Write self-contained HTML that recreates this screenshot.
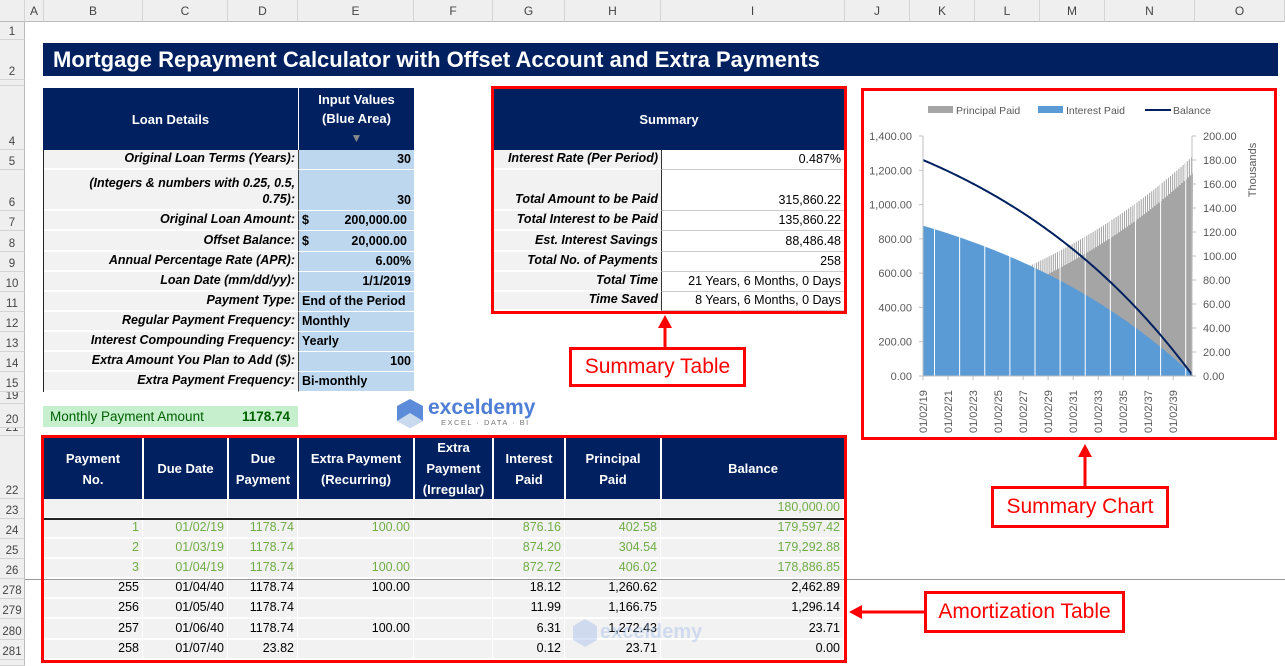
<!DOCTYPE html>
<html><head><meta charset="utf-8"><style>
*{box-sizing:border-box;margin:0;padding:0}
body{width:1285px;height:666px;overflow:hidden;background:#fff;font-family:"Liberation Sans",sans-serif;position:relative;font-size:12.5px;color:#000}
.a{position:absolute;white-space:nowrap;overflow:hidden}
.ch{background:#efefef;color:#444;text-align:center;font-size:12px;line-height:22px;top:0;height:22px;border-right:1px solid #d4d4d4;border-bottom:1px solid #bbb}
.rh{background:#efefef;color:#444;left:0;width:25px;text-align:center;font-size:11.5px;border-bottom:1px solid #d4d4d4;border-right:1px solid #bbb;display:flex;align-items:flex-end;justify-content:center;padding-bottom:1px}
.nv{background:#002060;color:#fff;font-weight:bold;display:flex;align-items:center;justify-content:center;text-align:center;line-height:21px;font-size:13px}
.c{display:flex;align-items:flex-end;padding:0 3px 2px 3px;font-size:12.5px;line-height:16px}
.r{justify-content:flex-end}
.lb{background:#f2f2f2;font-weight:bold;font-style:italic;justify-content:flex-end;border-bottom:2px solid #fff}
.iv{background:#bdd7ee;border-bottom:1px solid #fff;border-left:1px solid #444}
.sv{background:#fff;border-bottom:1px solid #ccc;border-left:1px solid #333}
.g{background:#f2f2f2;border-bottom:2px solid #fff;border-right:1px solid #fff}
.red{border:3px solid #f00}
.call{border:3px solid #f00;background:#fff;color:#f00;font-size:21px;display:flex;align-items:center;justify-content:center}
</style></head><body>
<div id="root"></div>
<svg class="a" style="left:0;top:0" width="1285" height="666" id="sv"></svg>
<script>
const R=document.getElementById('root');
function d(cls,x,y,w,h,t,st){const e=document.createElement('div');e.className='a '+cls;e.style.cssText=`left:${x}px;top:${y}px;width:${w}px;height:${h}px;`+(st||'');e.innerHTML=t||'';R.appendChild(e);return e}
const cols=[['',0,25],['A',25,44],['B',44,143],['C',143,228],['D',228,298],['E',298,414],['F',414,493],['G',493,565],['H',565,661],['I',661,845],['J',845,910],['K',910,975],['L',975,1040],['M',1040,1105],['N',1105,1195],['O',1195,1285]];
cols.forEach(c=>d('ch',c[1],0,c[2]-c[1],22,c[0]));
const rows=[['1',22,40],['2',40,80],['',80,86],['4',86,150],['5',150,170],['6',170,211],['7',211,231],['8',231,252],['9',252,272],['10',272,292],['11',292,312],['12',312,332],['13',332,352],['14',352,372],['15',372,392],['19',392,404],['20',404,428],['21',428,436],['22',436,499],['23',499,519],['24',519,539],['25',539,559],['26',559,579],['278',579,599],['279',599,619],['280',619,640],['281',640,660],['',660,666]];
rows.forEach(r=>d('rh',0,r[1],25,r[2]-r[1],r[0]));
d('',25,579,1260,1,'','background:#999');
d('',43,43,1235,33,'Mortgage Repayment Calculator with Offset Account and Extra Payments','background:#002060;color:#fff;font-weight:bold;font-size:22px;line-height:33px;padding-left:10px');
d('nv',43,88,255,62,'Loan Details');
d('nv',299,88,115,62,'<div>Input Values<br>(Blue Area)<br><span style="color:#888;font-size:12px">▼</span></div>','line-height:19px');
d('',43,150,1,242,'','background:#222');d('',43,391,371,1,'','background:#222');
const L=[[150,170,'Original Loan Terms (Years):','30','r'],[170,211,'(Integers &amp; numbers with 0.25, 0.5,<br>0.75):','30','r'],[211,231,'Original Loan Amount:','$<span style="margin-left:auto;margin-right:4px">200,000.00</span>',''],[231,252,'Offset Balance:','$<span style="margin-left:auto;margin-right:4px">20,000.00</span>',''],[252,272,'Annual Percentage Rate (APR):','6.00%','r'],[272,292,'Loan Date (mm/dd/yy):','1/1/2019','r'],[292,312,'Payment Type:','End of the Period',''],[312,332,'Regular Payment Frequency:','Monthly',''],[332,352,'Interest Compounding Frequency:','Yearly',''],[352,372,'Extra Amount You Plan to Add ($):','100','r'],[372,392,'Extra Payment Frequency:','Bi-monthly','']];
L.forEach(l=>{d('c lb',44,l[0],254,l[1]-l[0],'<span style="text-align:right">'+l[2]+'</span>');d('c iv '+l[4],298,l[0],116,l[1]-l[0],l[3],'font-weight:bold')});
d('',43,406,255,21,'<span>Monthly Payment Amount</span><b style="color:#006100">1178.74</b>','background:#c6efce;color:#006100;display:flex;justify-content:space-between;align-items:center;padding:0 8px 0 7px;font-size:13.5px');
d('',395,397,150,32,'<svg width="30" height="32" style="vertical-align:top"><polygon points="15,2 28,9 28,24 15,31 2,24 2,9" fill="#5b8bd9"/><polygon points="15,16 28,24 15,31 2,24" fill="#c9d9ee"/></svg><span style="color:#4f7ed6;font-weight:bold;font-size:21px;position:absolute;left:33px;top:-1px">exceldemy</span><span style="position:absolute;left:46px;top:21px;font-size:7.5px;color:#777;letter-spacing:1.5px">EXCEL · DATA · BI</span>');
d('red',491,86,356,228);
d('nv',494,89,350,61,'Summary');
const S=[[150,170,'Interest Rate (Per Period)','0.487%'],[170,211,'Total Amount to be Paid','315,860.22'],[211,231,'Total Interest to be Paid','135,860.22'],[231,252,'Est. Interest Savings','88,486.48'],[252,272,'Total No. of Payments','258'],[272,292,'Total Time','21 Years, 6 Months, 0 Days'],[292,311,'Time Saved','8 Years, 6 Months, 0 Days']];
S.forEach(s=>{d('c lb',494,s[0],167,s[1]-s[0],s[2]);d('c sv r',661,s[0],183,s[1]-s[0],s[3])});
d('red',41,435,806,228);
const AC=[44,143,228,298,414,493,565,661,844];
const AH=['Payment<br>No.','Due Date','Due<br>Payment','Extra Payment<br>(Recurring)','Extra<br>Payment<br>(Irregular)','Interest<br>Paid','Principal<br>Paid','Balance'];
for(let i=0;i<8;i++){d('nv',AC[i]+(i?1:0),438,AC[i+1]-AC[i]-(i?1:0)-(i==7?0:1),61,'<div>'+AH[i]+'</div>')}
const AR=[[499,519,['','','','','','','','180,000.00'],1],[519,539,['1','01/02/19','1178.74','100.00','','876.16','402.58','179,597.42'],1],[539,559,['2','01/03/19','1178.74','','','874.20','304.54','179,292.88'],1],[559,579,['3','01/04/19','1178.74','100.00','','872.72','406.02','178,886.85'],1],[580,599,['255','01/04/40','1178.74','100.00','','18.12','1,260.62','2,462.89'],0],[599,619,['256','01/05/40','1178.74','','','11.99','1,166.75','1,296.14'],0],[619,640,['257','01/06/40','1178.74','100.00','','6.31','1,272.43','23.71'],0],[640,660,['258','01/07/40','23.82','','','0.12','23.71','0.00'],0]];
AR.forEach(r=>{for(let i=0;i<8;i++)d('c g r',AC[i],r[0],AC[i+1]-AC[i],r[1]-r[0],r[2][i],r[3]?'color:#70ad47':'')});
d('',44,518,800,1.5,'','background:#222');
d('call',569,347,177,40,'Summary Table');
d('call',991,486,178,42,'Summary Chart');
d('call',924,591,201,42,'Amortization Table');
d('red',861,88,416,352,'','border-width:3px');
const sv=document.getElementById('sv');
let h='';
const x0=923,x1=1192,yb=376,yt=136,ly=v=>yb-v*(yb-yt)/1400,ry=v=>yb-v*(yb-yt)/200,N=258,xm=m=>x0+m*(x1-x0)/(N-1);
const k=Math.log(1260/402)/255;
let P=m=>402*Math.exp(k*m);
let gp='M'+x0+','+yb;for(let m=0;m<N;m++){const p=P(m)+(m%2==0?10:-90);gp+=` L${xm(m)},${ly(Math.max(p,0))} L${xm(m)+1.04},${ly(Math.max(p,0))}`}gp+=` L${x1},${yb}Z`;
h+=`<path d="${gp}" fill="#a5a5a5"/>`;
let bp='M'+x0+','+yb;for(let m=0;m<N;m++){const I=Math.max(876-(P(m)-402)*1.0,0);bp+=` L${xm(m)},${ly(I)} L${xm(m)+1.04},${ly(I)}`}bp+=` L${x1},${yb}Z`;
h+=`<path d="${bp}" fill="#5b9bd5"/>`;
for(let y=0;y<21;y+=2){const xx=x0+(y*12+11)*(x1-x0)/(N-1);h+=`<line x1="${xx}" y1="${yb}" x2="${xx}" y2="${yt}" stroke="#fff" stroke-width="1"/>`}
const tot=402/k*(Math.exp(k*258)-1);let bl='';for(let m=0;m<=258;m+=2){const b=180*(1-(402/k*(Math.exp(k*m)-1))/tot);bl+=(m?' L':'M')+xm(Math.min(m,257))+','+ry(Math.max(b,0))}
h+=`<path d="${bl}" fill="none" stroke="#002060" stroke-width="2"/>`;
h+=`<line x1="${x0}" y1="${yt}" x2="${x0}" y2="${yb}" stroke="#bfbfbf"/><line x1="${x1}" y1="${yt}" x2="${x1}" y2="${yb}" stroke="#bfbfbf"/><line x1="${x0}" y1="${yb}" x2="${x1}" y2="${yb}" stroke="#bfbfbf"/>`;
for(let i=0;i<=7;i++){const y=ly(i*200);h+=`<text x="912" y="${y+4}" text-anchor="end" font-size="11" fill="#595959">${(i*200).toLocaleString('en-US',{minimumFractionDigits:2})}</text><line x1="${x0-4}" y1="${y}" x2="${x0}" y2="${y}" stroke="#bfbfbf"/>`}
for(let i=0;i<=10;i++){const y=ry(i*20);h+=`<text x="1203" y="${y+4}" font-size="11" fill="#595959">${(i*20).toFixed(2)}</text><line x1="${x1}" y1="${y}" x2="${x1+4}" y2="${y}" stroke="#bfbfbf"/>`}
h+=`<text transform="translate(1256,170) rotate(-90)" text-anchor="middle" font-size="11" fill="#595959">Thousands</text>`;
for(let i=0;i<11;i++){const xx=x0+i*(x1-x0)/10.75;h+=`<line x1="${xx}" y1="${yb}" x2="${xx}" y2="${yb+4}" stroke="#bfbfbf"/><text transform="translate(${xx+4},${yb+57}) rotate(-90)" font-size="11" fill="#595959">01/02/${19+2*i}</text>`}
h+=`<rect x="928" y="106" width="25" height="7" fill="#a5a5a5"/><text x="956" y="114" font-size="10.5" fill="#595959">Principal Paid</text><rect x="1038" y="106" width="25" height="7" fill="#5b9bd5"/><text x="1066" y="114" font-size="10.5" fill="#595959">Interest Paid</text><line x1="1145" y1="110" x2="1171" y2="110" stroke="#002060" stroke-width="2"/><text x="1173" y="114" font-size="10.5" fill="#595959">Balance</text>`;
h+=`<g stroke="#f00" stroke-width="3" fill="#f00"><line x1="665" y1="347" x2="665" y2="326"/><polygon points="658,328 672,328 665,315" stroke="none"/><line x1="1085" y1="486" x2="1085" y2="455"/><polygon points="1078,457 1092,457 1085,444" stroke="none"/><line x1="924" y1="612" x2="860" y2="612"/><polygon points="862,605 862,619 849,612" stroke="none"/></g>`;
h+=`<g opacity="0.35"><polygon points="585,619 597,626 597,640 585,647 573,640 573,626" fill="#8fb0e8"/><text x="600" y="638" font-size="20" font-weight="bold" fill="#8fb0e8">exceldemy</text></g>`;
sv.innerHTML=h;
</script>
</body></html>
